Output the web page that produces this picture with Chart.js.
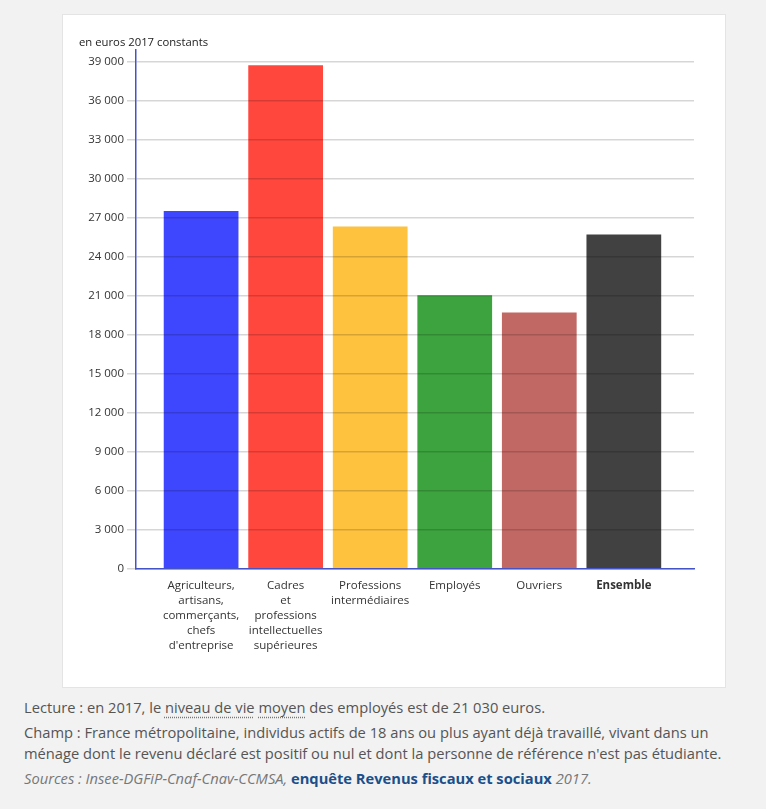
<!DOCTYPE html>
<html lang="fr">
<head>
<meta charset="utf-8">
<title>Niveau de vie moyen selon la catégorie socioprofessionnelle</title>
<script src="https://cdn.jsdelivr.net/npm/chart.js@4/dist/chart.umd.min.js"></script>
<style>
    body {
        margin: 0;
        background: #f2f2f2;
        font-family: "Open Sans", sans-serif;
    }
    #card {
        position: absolute;
        left: 62px;
        top: 14px;
        width: 664px;
        height: 674px;
        background: #fff;
        border: 1px solid #e4e4e4;
        box-sizing: border-box;
    }
    #notes {
        position: absolute;
        left: 24px;
        top: 697px;
        width: 712px;
        font-size: 14.7px;
        line-height: 21px;
        color: #555;
    }
    #notes p {
        margin: 0 0 4px 0;
    }
    .def {
        text-decoration: underline dotted #777;
        text-underline-offset: 4px;
    }
    .src {
        font-style: italic;
        color: #777;
    }
    .src a {
        font-style: normal;
        font-weight: bold;
        color: #1b4f8a;
        text-decoration: none;
    }
</style>
</head>
<body>
<div id="card"><canvas id="chart-niveau-vie"></canvas></div>
<div id="notes">
    <p>Lecture : en 2017, le <span class="def">niveau de vie</span> <span class="def">moyen</span> des employés est de 21 030 euros.</p>
    <p>Champ : France métropolitaine, individus actifs de 18 ans ou plus ayant déjà travaillé, vivant dans un ménage dont le revenu déclaré est positif ou nul et dont la personne de référence n'est pas étudiante.</p>
    <p class="src">Sources : Insee-DGFiP-Cnaf-Cnav-CCMSA, <a href="#">enquête Revenus fiscaux et sociaux</a> 2017.</p>
</div>
<script>
// Catégories socioprofessionnelles (libellés sur plusieurs lignes)
const categories = [
    ['Agriculteurs,', 'artisans,', 'commerçants,', 'chefs', "d'entreprise"],
    ['Cadres', 'et', 'professions', 'intellectuelles', 'supérieures'],
    ['Professions', 'intermédiaires'],
    ['Employés'],
    ['Ouvriers'],
    ['Ensemble']
];

// Niveau de vie moyen en euros 2017 constants
const niveauVie = [27500, 38700, 26300, 21030, 19700, 25700];

const barColors = ['#3f47fe', '#ff473d', '#fec23e', '#3da33f', '#c26864', '#414141'];

// Graduations de l'axe vertical
const yTicks = [0, 3000, 6000, 9000, 12000, 15000, 18000, 21000, 24000, 27000, 30000, 33000, 36000, 39000];

document.addEventListener('DOMContentLoaded', function() {
    const ctx = document.getElementById('chart-niveau-vie').getContext('2d');
    const axisBlue = '#4453c6';

    // Format français : 39 000
    function formatEuros(v) {
        return String(v).replace(/\B(?=(\d{3})+(?!\d))/g, ' ');
    }

    new Chart(ctx, {
        type: 'bar',
        data: {
            datasets: [{
                label: 'Niveau de vie moyen',
                data: niveauVie.map(function(v, i) { return { x: i, y: v }; }),
                backgroundColor: barColors,
                borderWidth: 0,
                categoryPercentage: 1,
                barPercentage: 0.884
            }]
        },
        options: {
            responsive: true,
            maintainAspectRatio: false,
            animation: false,
            layout: {
                padding: { left: 16, right: 31, top: 0, bottom: 0 }
            },
            plugins: {
                legend: { display: false },
                tooltip: { enabled: false },
                title: {
                    display: true,
                    text: 'en euros 2017 constants',
                    align: 'start',
                    color: '#222',
                    font: { family: 'Open Sans', size: 11.3, weight: 'normal' },
                    padding: { top: 21, bottom: 0 }
                }
            },
            scales: {
                x: {
                    type: 'linear',
                    offset: false,
                    min: -0.77,
                    max: 5.83,
                    afterBuildTicks: function(scale) {
                        scale.ticks = categories.map(function(c, i) { return { value: i }; });
                    },
                    afterFit: function(scale) {
                        scale.height = 118;
                    },
                    grid: { display: false, drawTicks: false },
                    border: { color: axisBlue, width: 1.5, z: 2 },
                    ticks: {
                        autoSkip: false,
                        maxRotation: 0,
                        padding: 9,
                        color: '#333',
                        font: function(c) {
                            return {
                                family: 'Open Sans',
                                size: 11.5,
                                lineHeight: 1.3,
                                weight: c.tick && c.tick.value === 5 ? 'bold' : 'normal'
                            };
                        },
                        callback: function(value) {
                            return categories[value];
                        }
                    }
                },
                y: {
                    min: 0,
                    max: 39900,
                    afterBuildTicks: function(scale) {
                        scale.ticks = yTicks.map(function(v) { return { value: v }; });
                    },
                    afterFit: function(scale) {
                        scale.width = 57;
                    },
                    grid: {
                        color: 'rgba(0, 0, 0, 0.16)',
                        lineWidth: 1.5,
                        tickLength: 9,
                        z: 1
                    },
                    border: { color: axisBlue, width: 1.5, z: 2 },
                    ticks: {
                        padding: 3,
                        color: '#333',
                        font: { family: 'Open Sans', size: 11.5 },
                        callback: function(value) {
                            return formatEuros(value);
                        }
                    }
                }
            }
        }
    });
});
</script>
</body>
</html>
